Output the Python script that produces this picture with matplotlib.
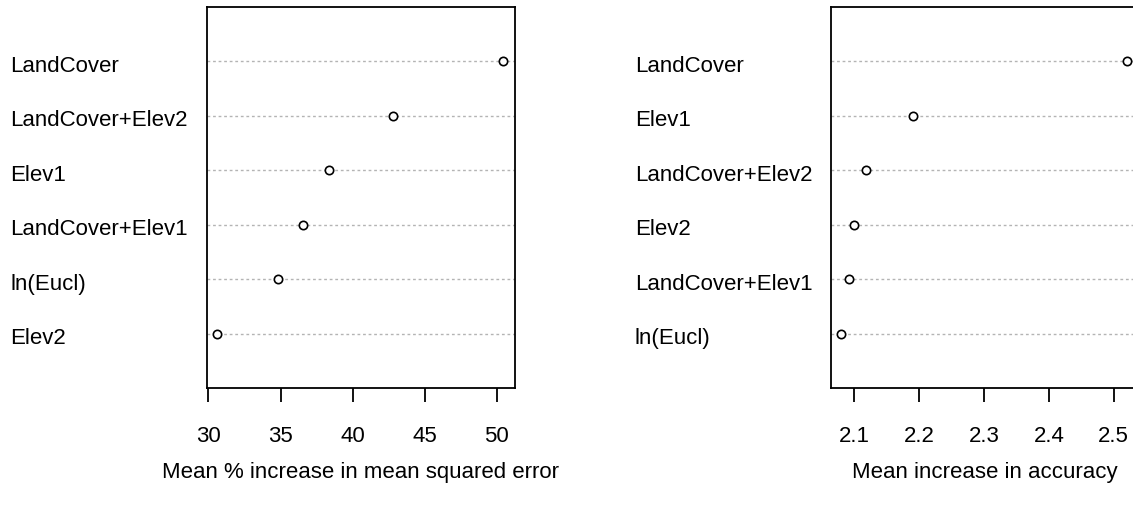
import matplotlib
matplotlib.use("Agg")
import matplotlib.pyplot as plt
import matplotlib.transforms as mtransforms

# values (top row first)
mse_labels = ["LandCover", "LandCover+Elev2", "Elev1", "LandCover+Elev1", "ln(Eucl)", "Elev2"]
mse_values = [50.41, 42.83, 38.35, 36.59, 34.81, 30.60]
mse_ticks = [30, 35, 40, 45, 50]

acc_labels = ["LandCover", "Elev1", "LandCover+Elev2", "Elev2", "LandCover+Elev1", "ln(Eucl)"]
acc_values = [2.521, 2.191, 2.1185, 2.100, 2.091, 2.080]
acc_ticks = [2.1, 2.2, 2.3, 2.4, 2.5]

plt.rcParams["font.family"] = ["Liberation Sans", "DejaVu Sans"]

W, H = 1133, 508
fig = plt.figure(figsize=(W / 100, H / 100), dpi=100)


def dotchart(left_px, label_px, labels, values, ticks, xlim, xlabel):
    ax = fig.add_axes([left_px / W, 1 - 388 / H, 308 / W, 381 / H])
    n = len(values)
    ypos = list(range(n, 0, -1))
    for y in ypos:
        ax.axhline(y, color="#b4b4b4", lw=1, linestyle=(0, (2, 2)), zorder=1)
    ax.plot(values, ypos, linestyle="none", marker="o", markersize=6,
            markerfacecolor="white", markeredgecolor="black", markeredgewidth=1.2, zorder=3)
    ax.set_xlim(*xlim)
    ax.set_ylim(0, n + 1)
    ax.set_yticks([])
    ax.set_xticks(ticks)
    ax.set_xticklabels([str(t) for t in ticks])
    ax.tick_params(axis="x", direction="out", length=10, width=1.3, pad=17, labelsize=16)
    for sp in ax.spines.values():
        sp.set_linewidth(1.3)
    ax.set_xlabel(xlabel, fontsize=16, labelpad=11)
    # labels sit a few pixels below the dot row, like R's dotchart
    trans = mtransforms.blended_transform_factory(fig.transFigure, ax.transData) + \
        mtransforms.ScaledTranslation(0, -5 / 100, fig.dpi_scale_trans)
    for lab, y in zip(labels, ypos):
        ax.text(label_px / W, y, lab, transform=trans, ha="left", va="center", fontsize=16)
    return ax


dotchart(207, 10, mse_labels, mse_values, mse_ticks, (29.9, 51.27),
         "Mean % increase in mean squared error")
dotchart(831, 635, acc_labels, acc_values, acc_ticks, (2.064, 2.539),
         "Mean increase in accuracy")

fig.savefig("out.png", dpi=100)
